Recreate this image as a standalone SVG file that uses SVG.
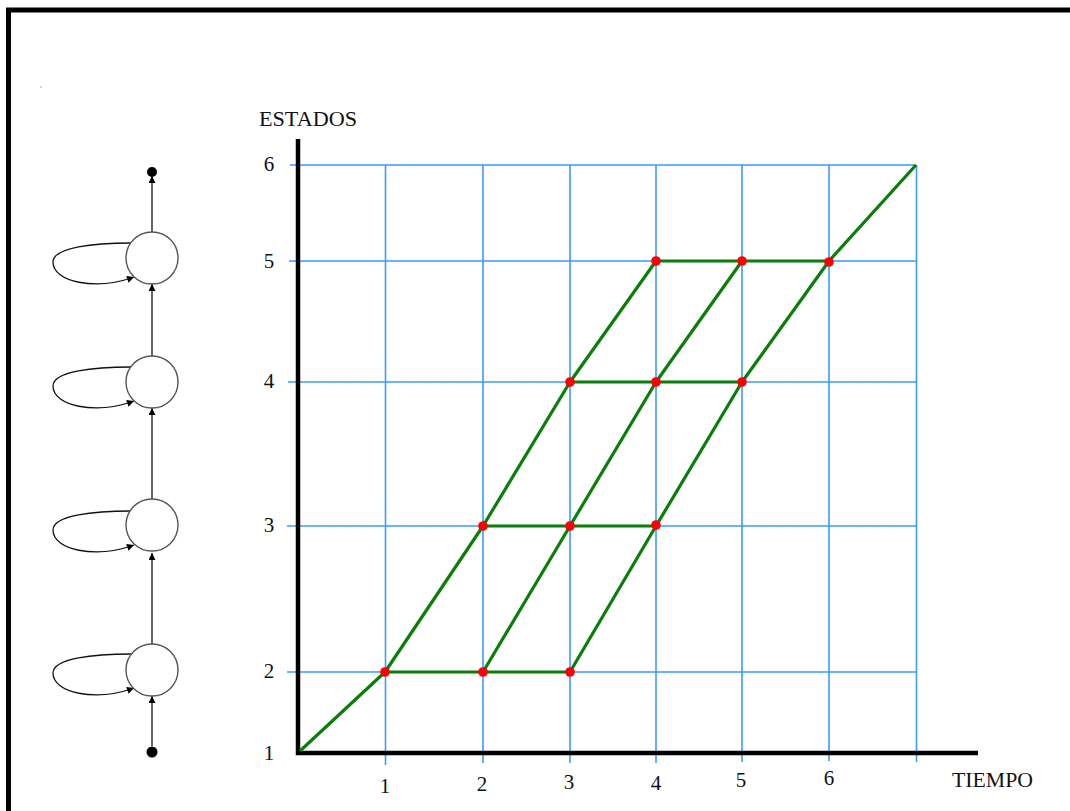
<svg xmlns="http://www.w3.org/2000/svg" width="1070" height="811" viewBox="0 0 1070 811">
<style>
text{font-family:"Liberation Serif","Times New Roman",serif;font-size:21px;fill:#111}
.grid{stroke:#3d9bff;stroke-width:1.6;fill:none}
.axis{stroke:#000;stroke-width:4.5;fill:none}
.g{stroke:#0a7d0a;stroke-width:3.2;fill:none;stroke-linejoin:round}
.dot{fill:#ff0000}
.st{fill:#fff;stroke:#555;stroke-width:1.4}
.c{stroke:#111;stroke-width:1.3;fill:none;marker-end:url(#ah)}
.lbl{text-anchor:middle}
</style>
<defs>
<marker id="ah" viewBox="0 0 10 10" refX="10" refY="5" markerWidth="8" markerHeight="7" markerUnits="userSpaceOnUse" orient="auto">
<path d="M0,0 L10,5 L0,10 z" fill="#000"/>
</marker>
</defs>
<rect width="1070" height="811" fill="#fff"/>
<rect x="8.5" y="10" width="1080" height="820" fill="none" stroke="#000" stroke-width="5"/>
<rect x="40.5" y="86.5" width="1" height="1" fill="#555"/>

<g id="grid">
<path class="grid" d="M290,165H916 M289,261H916 M288,382H916 M287,526H916 M287,672H916"/>
<path class="grid" d="M385.5,165V765 M483,165V763 M570,165V763 M656,165V763 M742,165V762 M829,165V761 M916.5,165V762"/>
</g>
<g id="axes">
<path class="axis" d="M298,139V753H978"/>
<text x="259" y="126" textLength="98" lengthAdjust="spacingAndGlyphs">ESTADOS</text>
<text x="952" y="787" textLength="81" lengthAdjust="spacingAndGlyphs">TIEMPO</text>
<text class="lbl" x="269" y="171">6</text>
<text class="lbl" x="269" y="268">5</text>
<text class="lbl" x="269" y="388">4</text>
<text class="lbl" x="269" y="532">3</text>
<text class="lbl" x="269" y="678">2</text>
<text class="lbl" x="269" y="760">1</text>
<text class="lbl" x="385" y="793">1</text>
<text class="lbl" x="482" y="791">2</text>
<text class="lbl" x="569" y="789">3</text>
<text class="lbl" x="656" y="790">4</text>
<text class="lbl" x="741" y="787">5</text>
<text class="lbl" x="829" y="785">6</text>
</g>
<g id="paths">
<polyline class="g" points="300,751 385,672 483,526 570,382 656,261"/>
<polyline class="g" points="483,672 570,526 656,382 742,261"/>
<polyline class="g" points="570,672 656,526 742,382 829,261 916,165"/>
<path class="g" d="M385,672H570 M483,526H656 M570,382H742 M656,261H829"/>
</g>
<g id="points">
<circle class="dot" cx="385" cy="672" r="4.8"/>
<circle class="dot" cx="483" cy="672" r="4.8"/>
<circle class="dot" cx="570" cy="672" r="4.8"/>
<circle class="dot" cx="483" cy="526" r="4.8"/>
<circle class="dot" cx="570" cy="526" r="4.8"/>
<circle class="dot" cx="656" cy="525" r="4.8"/>
<circle class="dot" cx="570" cy="382" r="4.8"/>
<circle class="dot" cx="656" cy="382" r="4.8"/>
<circle class="dot" cx="742" cy="382" r="4.8"/>
<circle class="dot" cx="656" cy="261" r="4.8"/>
<circle class="dot" cx="742" cy="261" r="4.8"/>
<circle class="dot" cx="829" cy="262" r="4.8"/>
</g>

<g id="connectors">
<line class="c" x1="152" y1="232" x2="152" y2="176"/>
<line class="c" x1="152" y1="356" x2="152" y2="284"/>
<line class="c" x1="152" y1="499" x2="152" y2="408"/>
<line class="c" x1="152" y1="644" x2="152" y2="553"/>
<line class="c" x1="152" y1="746" x2="152" y2="696"/>
<path class="c" d="M131,243 C95,243 53,247 53,262 C53,282 95,291 134,277"/>
<path class="c" d="M131,367 C95,367 53,371 53,386 C53,406 95,415 134,401"/>
<path class="c" d="M131,511 C95,511 53,515 53,530 C53,550 95,559 134,545"/>
<path class="c" d="M131,654 C95,654 53,658 53,673 C53,693 95,702 134,688"/>
</g>
<g id="start"><circle cx="152" cy="752" r="5.5" fill="#000"/></g>
<g id="end"><circle cx="152" cy="172" r="5" fill="#000"/></g>
<g id="s1"><circle class="st" cx="152" cy="258" r="26"/></g>
<g id="s2"><circle class="st" cx="152" cy="382" r="26"/></g>
<g id="s3"><circle class="st" cx="152" cy="525" r="26"/></g>
<g id="s4"><circle class="st" cx="152" cy="670" r="26"/></g>
</svg>
